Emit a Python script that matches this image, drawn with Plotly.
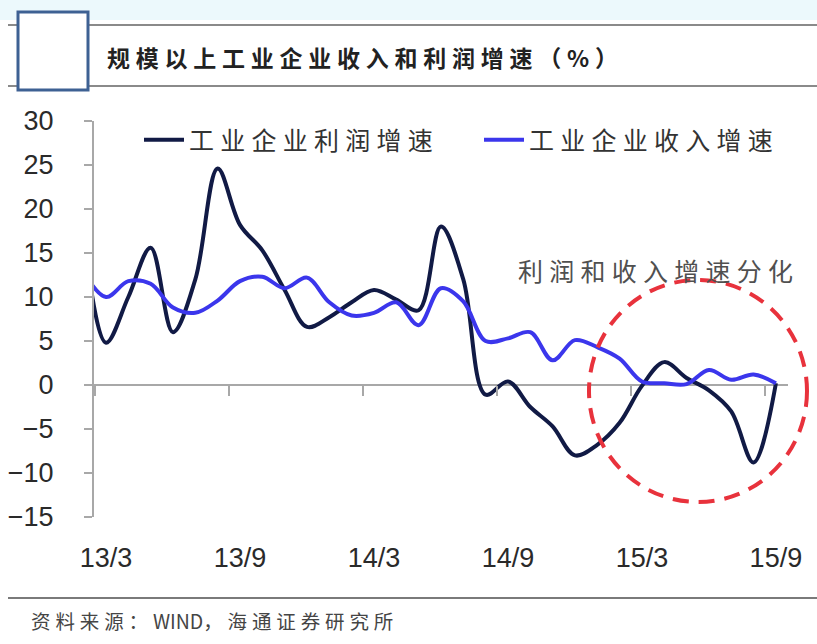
import plotly.graph_objects as go

# ---------------- data ----------------
months = ["13/2", "13/3", "13/4", "13/5", "13/6", "13/7", "13/8", "13/9", "13/10", "13/11", "13/12",
          "14/1", "14/2", "14/3", "14/4", "14/5", "14/6", "14/7", "14/8", "14/9", "14/10", "14/11", "14/12",
          "15/1", "15/2", "15/3", "15/4", "15/5", "15/6", "15/7", "15/8", "15/9"]
profit_growth = [17.2, 4.8, 10.0, 15.6, 6.0, 12.0, 24.6, 18.2, 15.3, 10.8, 6.6,
                 7.7, 9.4, 10.8, 9.7, 8.5, 18.0, 12.0, -1.1, 0.4, -2.5, -4.7, -8.0,
                 -6.8, -4.3, -0.1, 2.6, 0.8, -0.6, -3.0, -8.8, 0.2]
revenue_growth = [12.8, 10.0, 11.8, 11.5, 8.8, 8.2, 9.6, 11.8, 12.3, 11.0, 12.2,
                  9.4, 7.9, 8.2, 9.4, 6.8, 11.0, 9.5, 5.0, 5.3, 6.0, 2.8, 5.1,
                  4.3, 3.0, 0.4, 0.2, 0.1, 1.7, 0.6, 1.2, 0.2]
tick_labels = ["13/3", "13/9", "14/3", "14/9", "15/3", "15/9"]
name_profit = "工业企业利润增速"
name_revenue = "工业企业收入增速"
title_text = "规模以上工业企业收入和利润增速（%）"
note_text = "利润和收入增速分化"
source_parts = ["资料来源：", "WIND", "，海通证券研究所"]

# month index: 13/3 -> 0
x_idx = [i - 1 for i in range(len(months))]
tick_vals = [x_idx[months.index(t)] for t in tick_labels]
sep_ticks = [v - 0.5 for v in tick_vals]

# ---------------- layout geometry (pixels) ----------------
W, H = 817, 644
L, R, T, B = 94, 788, 121, 517
PX_PER_M = 22.33
X0_PX = 106  # pixel of month index 0
xr = [(L - X0_PX) / PX_PER_M, (R - X0_PX) / PX_PER_M]
yr = [-15, 30]


def px(xp):
    return (xp - L) / (R - L)


def py(yp):
    return (B - yp) / (B - T)


def spaced(s, sp="\u2005"):
    return sp.join(list(s))


CJK = "Noto Sans CJK SC"
NUM = "Liberation Sans, Arial"

source_text = (spaced(source_parts[0]) + "\u2005" + source_parts[1]
               + spaced(source_parts[2]))

fig = go.Figure()
fig.add_trace(go.Scatter(x=x_idx, y=profit_growth, mode="lines", name=spaced(name_profit),
                         line=dict(color="#111a45", width=4, shape="spline", smoothing=1.0)))
fig.add_trace(go.Scatter(x=x_idx, y=revenue_growth, mode="lines", name=spaced(name_revenue),
                         line=dict(color="#3b36ec", width=4, shape="spline", smoothing=1.0)))
# dummy trace so the zero-crossing tick axis is rendered
fig.add_trace(go.Scatter(x=[0, 0], y=[None, None], xaxis="x2", mode="lines",
                         showlegend=False, hoverinfo="skip"))

shapes = [
    # light band at the very top
    dict(type="rect", xref="paper", yref="paper", x0=px(0), x1=px(W), y0=py(0), y1=py(20),
         fillcolor="#ecf9fc", line=dict(width=0), layer="below"),
    # header rules
    dict(type="line", xref="paper", yref="paper", x0=px(8), x1=px(W), y0=py(25), y1=py(25),
         line=dict(color="#8a8a8a", width=2)),
    dict(type="line", xref="paper", yref="paper", x0=px(8), x1=px(W), y0=py(86), y1=py(86),
         line=dict(color="#8a8a8a", width=2)),
    # footer rule
    dict(type="line", xref="paper", yref="paper", x0=px(8), x1=px(W), y0=py(598), y1=py(598),
         line=dict(color="#7a7a7a", width=2)),
    # blue square
    dict(type="rect", xref="paper", yref="paper", x0=px(18), x1=px(88), y0=py(90), y1=py(12),
         fillcolor="white", line=dict(color="#3e6193", width=3)),
    # red dashed circle
    dict(type="circle", xref="paper", yref="paper", x0=px(589), x1=px(807), y0=py(502), y1=py(280),
         line=dict(color="#e8323c", width=4, dash="16px,10px")),
]

annotations = [
    dict(text="<b>" + spaced(title_text) + "</b>", xref="paper", yref="paper", x=px(105), y=py(57),
         xanchor="left", yanchor="middle", showarrow=False,
         font=dict(family=CJK, size=23, color="#222222")),
    dict(text=spaced(note_text), xref="paper", yref="paper", x=px(516), y=py(270),
         xanchor="left", yanchor="middle", showarrow=False,
         font=dict(family=CJK, size=25, color="#505050")),
    dict(text=source_text, xref="paper", yref="paper", x=px(29), y=py(620),
         xanchor="left", yanchor="middle", showarrow=False,
         font=dict(family=CJK, size=19.5, color="#454545")),
]

fig.update_layout(
    width=W, height=H,
    margin=dict(l=L, r=W - R, t=T, b=H - B, autoexpand=False),
    paper_bgcolor="white", plot_bgcolor="white",
    showlegend=True,
    legend=dict(orientation="h", x=px(139), y=py(140), xanchor="left", yanchor="middle",
                font=dict(family=CJK, size=25, color="#333333"), bgcolor="rgba(0,0,0,0)",
                entrywidth=285, entrywidthmode="pixels", itemwidth=40),
    xaxis=dict(range=xr, showline=False, showgrid=False, zeroline=False, ticks="",
               tickvals=tick_vals, ticktext=tick_labels, ticklabelstandoff=22,
               tickfont=dict(family=NUM, size=27, color="#2a2a2a")),
    xaxis2=dict(range=xr, overlaying="x", anchor="free", position=(0 - yr[0]) / (yr[1] - yr[0]),
                showline=False, showgrid=False, zeroline=False, showticklabels=False,
                ticks="outside", ticklen=10, tickwidth=2, tickcolor="#a8a8a8",
                tickvals=sep_ticks),
    yaxis=dict(range=yr, dtick=5, showgrid=False, showline=True, linecolor="#a8a8a8", linewidth=2,
               ticks="outside", ticklen=8, tickwidth=2, tickcolor="#a8a8a8",
               zeroline=True, zerolinecolor="#a8a8a8", zerolinewidth=2,
               ticklabelstandoff=25,
               tickfont=dict(family=NUM, size=27, color="#2a2a2a")),
    shapes=shapes,
    annotations=annotations,
)

fig.write_html("out.html", config={"displayModeBar": False},
               post_script="document.body.style.margin='0px';")
